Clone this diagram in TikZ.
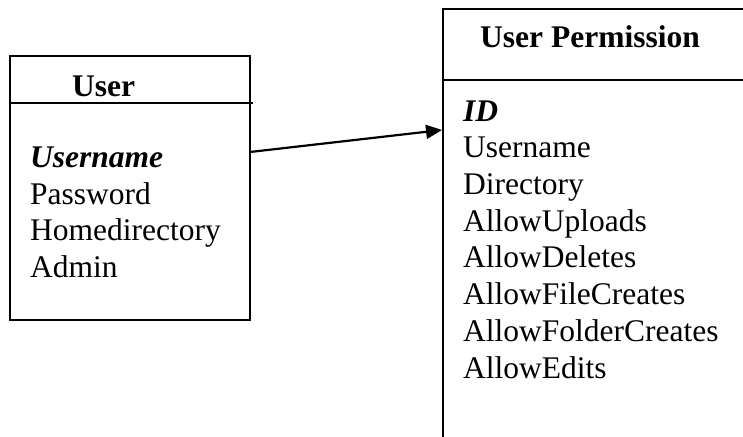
\documentclass[tikz,border=0pt]{standalone}
\usepackage{fontspec}
\setmainfont{Liberation Serif}
\usetikzlibrary{arrows.meta}
\tikzset{>={Triangle[length=16pt,width=14pt]}}
\tikzset{
  box/.style={line width=1.6pt},
  title/.style={anchor=base west,inner sep=0pt,font=\fontsize{31.5}{36}\selectfont\bfseries},
  attr/.style={anchor=base west,inner sep=0pt,font=\fontsize{31.5}{36}\selectfont},
  key/.style={attr,font=\fontsize{31.5}{36}\selectfont\bfseries\itshape},
  link/.style={line width=2.2pt,->},
}

\begin{document}
\begin{tikzpicture}[x=1pt,y=1pt]
    \useasboundingbox (0,0) rectangle (743,436);
    % user table
    \draw[box] (10,380) rectangle (250,116);
    \draw[box] (10,333) -- (253,333);
    \node[title] (usertitle) at (72,339) {User};
    \node[key]  (username) at (30,268) {Username};
    \node[attr] (password) at (30,231.5) {Password};
    \node[attr] (homedir) at (30,195) {Homedirectory};
    \node[attr] (admin) at (30,158.5) {Admin};

    % permission table, runs off the page
    \draw[box] (750,427) -- (443,427) -- (443,-5);
    \draw[box] (443,356) -- (750,356);
    \node[title] (permtitle) at (480,388) {User Permission};
    \node[key]  (permid) at (463,314) {ID};
    \node[attr] (permuser) at (463,278) {Username};
    \node[attr] (permdir) at (463,241) {Directory};
    \node[attr] (upload) at (463,204.5) {AllowUploads};
    \node[attr] (delete) at (463,168) {AllowDeletes};
    \node[attr] (filecreate) at (463,131) {AllowFileCreates};
    \node[attr] (foldercreate) at (463,94.5) {AllowFolderCreates};
    \node[attr] (edit) at (463,58) {AllowEdits};

    % relation
    \coordinate (userport) at (250,284);
    \coordinate (permport) at (442,306);
    \draw[link] (userport) -- (permport);
\end{tikzpicture}
\end{document}
